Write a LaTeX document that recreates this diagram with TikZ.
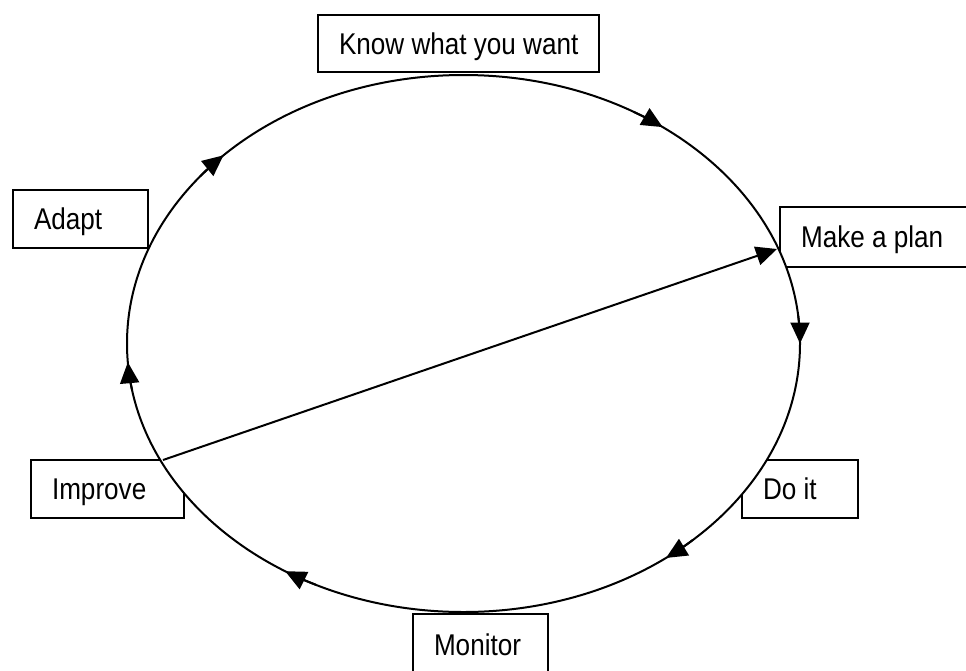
\documentclass[tikz,border=0pt]{standalone}
\usepackage{fontspec}
\setmainfont[FakeStretch=0.87]{Liberation Sans}
\usetikzlibrary{arrows.meta}
\begin{document}
\begin{tikzpicture}[x=1pt,y=-1pt,line width=2pt,
  box/.style={draw,fill=white,anchor=north west,inner xsep=21pt,inner ysep=0pt,
    text height=21.5pt,text depth=0pt,font=\fontsize{30}{30}\selectfont},
  tip/.style={-{Triangle[length=21pt,width=19pt]}}]
\useasboundingbox (0,0) rectangle (966,670);
% boxes
\node[box,minimum height=57pt] (know) at (317,14) {\makebox[239pt][l]{Know what you want}};
\node[box,minimum height=58pt] (adapt) at (12,189) {\makebox[93pt][l]{Adapt}};
\node[box,minimum height=60pt] (plan) at (779,206) {\makebox[168pt][l]{Make a plan}};
\node[box,minimum height=58pt] (improve) at (30,459) {\makebox[111pt][l]{Improve}};
\node[box,minimum height=58pt] (doit) at (741,459) {\makebox[74pt][l]{Do it}};
\node[box,minimum height=62pt] (monitor) at (412,613) {\makebox[93pt][l]{Monitor}};
% cycle
\coordinate (c) at (463.5,343.5);
\draw[fill=white] (c) ellipse [x radius=336.5,y radius=268.5];
\foreach \a in {-135.5,-53.7,0,53,122,176}
  \draw[tip] (c) ++(\a-6:336.5 and 268.5)
    arc[start angle=\a-6,end angle=\a,x radius=336.5,y radius=268.5];
% shortcut
\coordinate (s) at (163,460);
\coordinate (e) at (777,249);
\draw[tip] (s) -- (e);
\end{tikzpicture}
\end{document}
